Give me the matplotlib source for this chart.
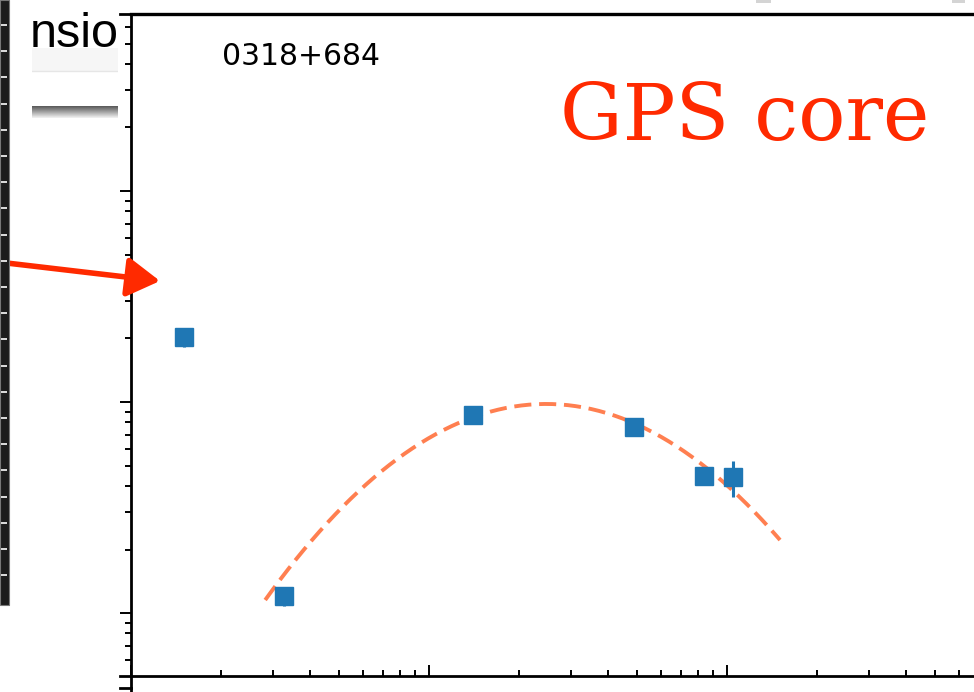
import numpy as np
import matplotlib
matplotlib.use('Agg')
import matplotlib.pyplot as plt
from matplotlib.lines import Line2D
from matplotlib.patches import Rectangle

# core spectrum of 0318+684
freq_ghz = [0.151, 0.326, 1.41, 4.87, 8.37, 10.47]
flux_jy = [2.03, 0.120, 0.868, 0.761, 0.446, 0.441]
flux_err = [0.20, 0.012, 0.04, 0.03, 0.02, 0.085]

# log-parabola fit to the core points
peak_freq = 2.47
peak_flux = 0.979
curvature = -1.046
fit_range = [0.282, 15.06]

W, H = 974, 692
fig = plt.figure(figsize=(W / 100, H / 100), dpi=100)

def fx(px):
    return px / W

def fy(py):
    return 1 - py / H

ax = fig.add_axes([fx(131), fy(676), 1 - fx(131), fy(14) - fy(676)])
ax.set_xscale('log')
ax.set_yscale('log')
ax.set_xlim(0.1, 67.4)
ax.set_ylim(0.0503, 69.0)

nu = np.logspace(np.log10(fit_range[0]), np.log10(fit_range[1]), 200)
s_fit = peak_flux * 10 ** (curvature * np.log10(nu / peak_freq) ** 2)
ax.plot(nu, s_fit, color='#ff7f50', lw=2.8, ls=(0, (4.4, 2.0)), zorder=2)

ax.errorbar(freq_ghz, flux_jy, yerr=flux_err, fmt='s', color='#1f77b4',
            ms=13, elinewidth=2.2, capsize=0, zorder=3)

ax.spines['right'].set_visible(False)
for side in ['left', 'bottom', 'top']:
    ax.spines[side].set_linewidth(2.0)
ax.spines['top'].set_linewidth(2.4)

ax.tick_params(axis='y', which='major', direction='out', length=8, width=1.4,
               labelleft=False)
ax.tick_params(axis='y', which='minor', direction='out', length=4.3, width=1.4,
               labelleft=False)
ax.tick_params(axis='x', which='major', direction='in', length=7.7, width=1.4,
               labelbottom=False)
ax.tick_params(axis='x', which='minor', direction='in', length=4.3, width=1.4,
               labelbottom=False)

fig.text(fx(222), fy(65), '0318+684', fontsize=21.5, color='black',
         va='baseline', ha='left')
fig.text(fx(560), fy(140), 'GPS core', fontsize=56.5, color='#ff2a00',
         family='DejaVu Serif', va='baseline', ha='left')

# extra tick marks and spine stub below the axis
for py in [14, 676, 688]:
    fig.add_artist(Line2D([fx(120), fx(131)], [fy(py), fy(py)], color='black', lw=2.0))
fig.add_artist(Line2D([fx(131), fx(131)], [fy(676), fy(692)], color='black', lw=2.0))

# red pointer arrow
ax.annotate('', xy=(160, H - 281), xytext=(-2, H - 262),
            xycoords='figure pixels', textcoords='figure pixels',
            arrowprops=dict(arrowstyle='-|>,head_length=2.0,head_width=1.2',
                            lw=4.0, color='#ff2a00', shrinkA=0, shrinkB=0),
            annotation_clip=False, zorder=10)

# film strip on the left edge
fig.add_artist(Rectangle((0, fy(605)), fx(9), fy(0) - fy(605), transform=fig.transFigure,
                         facecolor='#1c1c1c', edgecolor='#777777', lw=0.8))
for k in range(22):
    py = 25 + 26.2 * k
    fig.add_artist(Rectangle((fx(1), fy(py + 1)), fx(6), 2 / H, transform=fig.transFigure,
                             facecolor='#d8d8d8', edgecolor='none'))

# cut-off panel on the left
side = fig.add_axes([fx(32), fy(120), fx(118) - fx(32), fy(0) - fy(120)])
side.axis('off')
side.add_patch(Rectangle((0, 48), 86, 23, facecolor='#f6f6f6', edgecolor='none'))
side.plot([0, 86], [71, 71], color='#e6e6e6', lw=1)
grad = np.linspace(0, 1, 20).reshape(-1, 1)
side.imshow(grad, extent=(0, 86, 118, 106), cmap='gray', vmin=-0.6, vmax=1.1,
            aspect='auto', zorder=1)
side.text(-2, 47, 'nsion', fontsize=35, family='Liberation Sans', color='black',
          va='baseline', ha='left', clip_on=True)
side.set_xlim(0, 86)
side.set_ylim(120, 0)

# small grey tabs at the top edge
for x0, x1 in [(756, 771), (952, 965)]:
    fig.add_artist(Rectangle((fx(x0), fy(3)), fx(x1) - fx(x0), 3 / H,
                             transform=fig.transFigure, facecolor='#d4d4d4',
                             edgecolor='none'))

fig.savefig('out.png', dpi=100)
